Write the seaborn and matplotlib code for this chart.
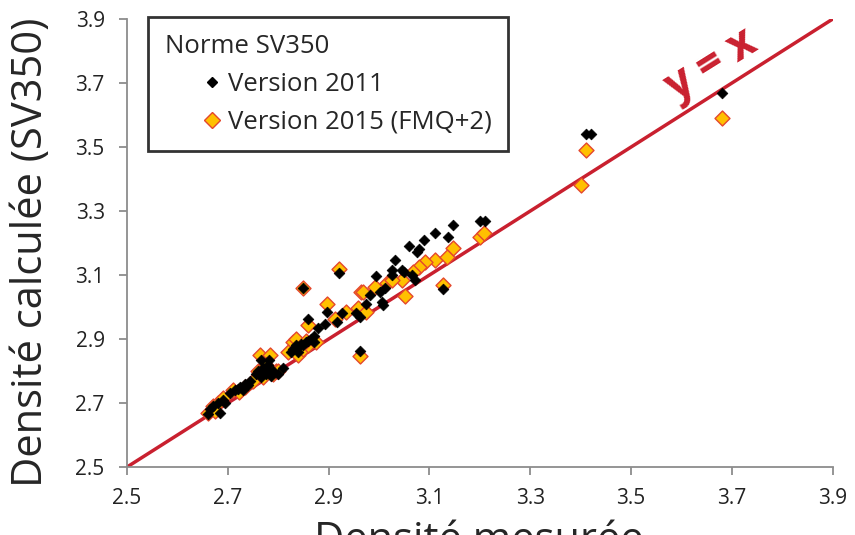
import matplotlib
matplotlib.use("Agg")
import seaborn as sns
import matplotlib.pyplot as plt
from matplotlib.lines import Line2D

# Version 2011 (black diamonds)
x_2011 = [2.66, 2.665, 2.67, 2.68, 2.69, 2.685, 2.695,
          2.705, 2.715, 2.72, 2.73, 2.735, 2.74, 2.745, 2.725,
          2.755, 2.76, 2.765, 2.77, 2.775, 2.78, 2.785, 2.79, 2.78, 2.766, 2.782, 2.80, 2.81,
          2.825, 2.83, 2.835, 2.84, 2.845, 2.85, 2.855, 2.86, 2.865, 2.87, 2.84, 2.87,
          2.85, 2.92, 2.897, 2.86, 2.879, 2.893, 2.916, 2.926, 2.955, 2.962,
          2.975, 2.982, 3.002, 3.012, 3.005, 3.008, 2.994, 3.025, 2.963,
          3.031, 3.026, 3.045, 3.05, 3.066, 3.071, 3.06, 3.075, 3.08, 3.09,
          3.111, 3.137, 3.146, 3.20, 3.21, 3.126,
          3.41, 3.42, 3.68]
y_2011 = [2.665, 2.68, 2.69, 2.70, 2.71, 2.67, 2.70,
          2.73, 2.74, 2.745, 2.74, 2.76, 2.755, 2.77, 2.75,
          2.79, 2.80, 2.78, 2.81, 2.79, 2.80, 2.785, 2.80, 2.82, 2.835, 2.835, 2.79, 2.81,
          2.86, 2.87, 2.88, 2.875, 2.885, 2.88, 2.89, 2.895, 2.90, 2.89, 2.86, 2.91,
          3.06, 3.105, 2.985, 2.964, 2.933, 2.947, 2.954, 2.98, 2.98, 2.97,
          3.011, 3.037, 3.048, 3.058, 3.016, 3.006, 3.097, 3.10, 2.862,
          3.147, 3.116, 3.116, 3.11, 3.10, 3.084, 3.19, 3.173, 3.18, 3.21,
          3.23, 3.218, 3.256, 3.27, 3.27, 3.055,
          3.54, 3.54, 3.67]

# Version 2015 (FMQ+2) (orange diamonds)
x_2015 = [2.66, 2.67, 2.68, 2.69, 2.675,
          2.71, 2.722, 2.735, 2.75,
          2.764, 2.784, 2.76, 2.775, 2.79, 2.795, 2.77, 2.80,
          2.82, 2.83, 2.84, 2.85, 2.86, 2.875, 2.835, 2.855,
          2.85, 2.92, 2.896, 2.86, 2.912, 2.934, 2.959, 2.965, 2.975, 2.969,
          2.992, 3.015, 2.962,
          3.111, 3.092, 3.079, 3.068, 3.045, 3.025, 3.051, 3.126, 3.146, 3.135,
          3.20, 3.208, 3.41, 3.40, 3.68]
y_2015 = [2.67, 2.69, 2.70, 2.715, 2.675,
          2.74, 2.734, 2.75, 2.77,
          2.85, 2.85, 2.80, 2.82, 2.79, 2.80, 2.78, 2.80,
          2.86, 2.89, 2.85, 2.87, 2.88, 2.89, 2.90, 2.895,
          3.06, 3.12, 3.011, 2.944, 2.964, 2.985, 2.996, 3.048, 2.985, 3.048,
          3.064, 3.074, 2.848,
          3.147, 3.14, 3.126, 3.11, 3.084, 3.084, 3.035, 3.069, 3.185, 3.157,
          3.22, 3.23, 3.49, 3.38, 3.59]

ticks = [2.5, 2.7, 2.9, 3.1, 3.3, 3.5, 3.7, 3.9]

sns.set_style("white")
plt.rcParams["font.family"] = ["Open Sans", "DejaVu Sans"]

red = "#C9202F"
fig = plt.figure(figsize=(8.55, 5.35), dpi=100)
ax = fig.add_axes([0.1485, 0.127, 0.8255, 0.8375])

ax.plot([2.5, 3.9], [2.5, 3.9], color=red, lw=2.5, zorder=1)

sns.scatterplot(x=x_2015, y=y_2015, marker="D", s=58, color="#FFC000",
                edgecolor="#E4472D", linewidth=1.0, ax=ax, zorder=2)
sns.scatterplot(x=x_2011, y=y_2011, marker="D", s=30, color="black",
                edgecolor="black", linewidth=0.5, ax=ax, zorder=3)

ax.set_xlim(2.5, 3.9)
ax.set_ylim(2.5, 3.9)
ax.set_xticks(ticks)
ax.set_yticks(ticks)
ax.set_xticklabels([f"{t:.1f}" for t in ticks])
ax.set_yticklabels([f"{t:.1f}" for t in ticks])
for s in ["top", "right"]:
    ax.spines[s].set_visible(False)
for s in ["left", "bottom"]:
    ax.spines[s].set_color("#8C8C8C")
    ax.spines[s].set_linewidth(1.3)
ax.tick_params(axis="both", direction="out", length=6, width=1.3,
               color="#8C8C8C", labelsize=15, labelcolor="#222222",
               left=True, bottom=True)
ax.tick_params(axis="y", pad=10)
ax.tick_params(axis="x", pad=9)

fig.text(0.036, 0.529, "Densité calculée (SV350)", fontsize=30,
         rotation=90, ha="center", va="center")
fig.text(0.56, 0.028, "Densité mesurée", fontsize=30, ha="center", va="top")

ax.text(3.66, 3.755, "y = x", color=red, fontsize=32, fontweight="bold",
        rotation=32, ha="center", va="center")

handles = [
    Line2D([], [], marker="D", ls="", color="black", markersize=5.5),
    Line2D([], [], marker="D", ls="", markerfacecolor="#FFC000",
           markeredgecolor="#E4472D", markersize=8.5),
]
leg = ax.legend(handles, ["Version 2011", "Version 2015 (FMQ+2)"],
                title="Norme SV350", loc="upper left",
                bbox_to_anchor=(0.03, 1.004), fontsize=18.5, title_fontsize=18.5,
                frameon=True, fancybox=False, edgecolor="black",
                handlelength=3.7, handletextpad=-1.25, borderpad=0.65,
                borderaxespad=0, labelspacing=0.5, alignment="left")
leg.get_frame().set_linewidth(2.0)

fig.savefig("out.png", dpi=100)
